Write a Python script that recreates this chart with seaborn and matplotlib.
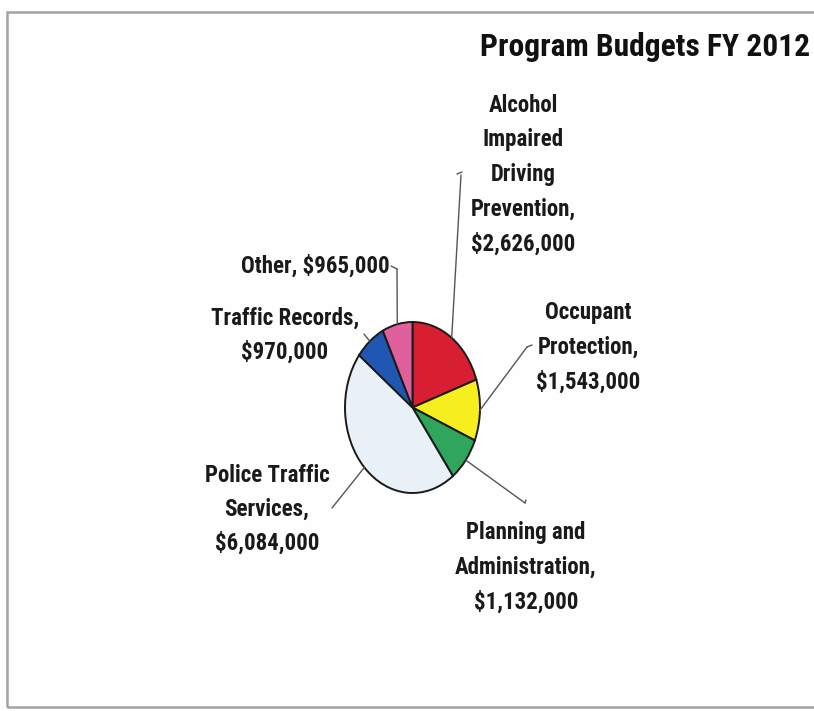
import numpy as np
import matplotlib
matplotlib.use("Agg")
import matplotlib.pyplot as plt
from matplotlib.lines import Line2D
from matplotlib.patches import Rectangle
import seaborn as sns

# Program budgets, fiscal year 2012 (dollars)
programs = [
    "Alcohol Impaired Driving Prevention",
    "Occupant Protection",
    "Planning and Administration",
    "Police Traffic Services",
    "Traffic Records",
    "Other",
]
budgets = [2626000, 1543000, 1132000, 6084000, 970000, 965000]
label_lines = [
    ["Alcohol", "Impaired", "Driving", "Prevention,"],
    ["Occupant", "Protection,"],
    ["Planning and", "Administration,"],
    ["Police Traffic", "Services,"],
    ["Traffic Records,"],
    [],
]
slice_colors = ["#D81F32", "#F6EE1F", "#2FA65C", "#E9F1F8", "#1F57B2", "#E0609B"]
title = "Program Budgets FY 2012"

sns.set_theme(style="white")
plt.rcParams["font.family"] = ["Roboto Condensed", "Liberation Sans", "DejaVu Sans"]

label_size = 16.5
title_size = 22.7

W, H = 814, 711
fig = plt.figure(figsize=(W / 100, H / 100), dpi=100)
fig.patch.set_facecolor("#FEFEFE")


def fp(x, y):
    """Pixel position (origin top-left) to figure fraction."""
    return x / W, 1 - y / H


# page frame
fig.patches.append(Rectangle(fp(7, 707), (W + 20) / W, (707 - 12) / H,
                             transform=fig.transFigure, fill=False,
                             edgecolor="#A3A3A3", linewidth=1.8))

# pie axes: an upright ellipse, 135 x 171 px
cx, cy, rx, ry = 412.5, 407.5, 67.5, 85.5
pad = 1.03
ax = fig.add_axes([(cx - rx * pad) / W, (H - cy - ry * pad) / H,
                   2 * rx * pad / W, 2 * ry * pad / H])
wedges, _ = ax.pie(budgets, colors=slice_colors, startangle=90, counterclock=False,
                   radius=1.0, wedgeprops=dict(edgecolor="#1A1A1A", linewidth=1.4))
ax.set_xlim(-pad, pad)
ax.set_ylim(-pad, pad)
ax.set_aspect("auto")
ax.axis("off")

text_kw = dict(fontsize=label_size, fontweight="bold", color="#1A1A1A",
               ha="center", va="center")

# label block positions (centre x, first-line y, line pitch) in pixels
label_pos = [
    (523, 105, 34.7),
    (588, 313, 34.5),
    (526, 532, 35.0),
    (267, 475, 34.0),
    (285, 318, 34.0),
    (315, 266, 34.0),
]
# leader line start points (pixels) and short ticks
leader_start = [(461, 175), (527, 347), (525, 503), (332, 508), (364, 334), (397, 269)]
leader_tick = [((457, 174), (462, 172)), ((527, 347), (532, 345)),
               ((525, 503), (526, 500)), None, None, ((391, 266), (397, 269))]

for i, (w, val) in enumerate(zip(wedges, budgets)):
    money = f"${val:,.0f}"
    lines = label_lines[i]
    x0, y0, pitch = label_pos[i]
    if lines:
        allines = lines + [money]
    else:
        allines = [f"{programs[i]}, {money}"]
    for k, ln in enumerate(allines):
        fig.text(*fp(x0, y0 + k * pitch), ln, **text_kw)

    # leader from the label to the middle of the wedge's rim
    mid = np.deg2rad((w.theta1 + w.theta2) / 2)
    ax.annotate("", xy=(np.cos(mid), np.sin(mid)), xycoords="data",
                xytext=fp(*leader_start[i]), textcoords="figure fraction",
                arrowprops=dict(arrowstyle="-", color="#555555", lw=1.0,
                                shrinkA=0, shrinkB=0),
                annotation_clip=False)
    if leader_tick[i] is not None:
        (ax1, ay1), (ax2, ay2) = leader_tick[i]
        p1, p2 = fp(ax1, ay1), fp(ax2, ay2)
        fig.lines.append(Line2D([p1[0], p2[0]], [p1[1], p2[1]],
                                transform=fig.transFigure, color="#555555", lw=1.0))

fig.text(*fp(480, 47), title, fontsize=title_size, fontweight="bold", color="#111111",
         ha="left", va="center")

fig.savefig("out.png", dpi=100, facecolor=fig.get_facecolor())
